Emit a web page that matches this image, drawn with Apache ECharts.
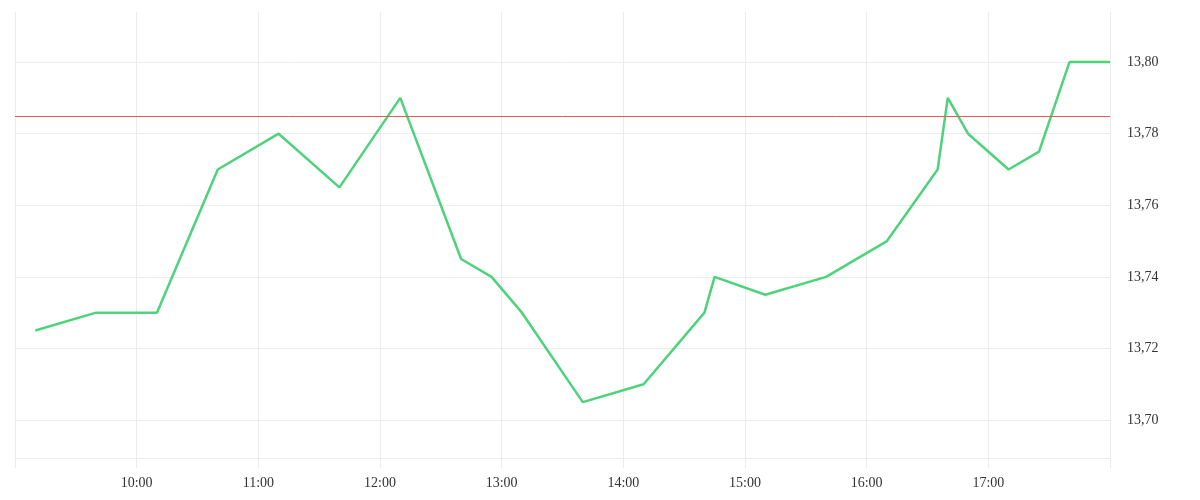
<!DOCTYPE html>
<html>
<head>
<meta charset="utf-8">
<script src="https://cdn.jsdelivr.net/npm/echarts@6/dist/echarts.min.js"></script>
<style>html,body{margin:0;padding:0;background:#fff}#c{width:1200px;height:500px}</style>
</head>
<body>
<div id="c"></div>
<script>
const times = ["09:10","09:40","10:10","10:40","11:10","11:40","12:10","12:40","12:55","13:10","13:40","14:10","14:40","14:45","15:10","15:40","16:10","16:35","16:40","16:50","17:10","17:25","17:40","18:00"];
const prices = [13.725,13.73,13.73,13.77,13.78,13.765,13.79,13.745,13.74,13.73,13.705,13.71,13.73,13.74,13.735,13.74,13.75,13.77,13.79,13.78,13.77,13.775,13.80,13.80];
const referenceLevel = 13.785;
const hourLabels = ["09:00","10:00","11:00","12:00","13:00","14:00","15:00","16:00","17:00","18:00"];

const toMin = s => { const p = s.split(":"); return (+p[0]) * 60 + (+p[1]) - 540; };
const seriesData = times.map((t, i) => [toMin(t), prices[i]]);
const gridColor = '#ececec';
const font = 'Liberation Serif';

const chart = echarts.init(document.getElementById('c'));
chart.setOption({
  animation: false,
  grid: { left: 15, right: 90, top: 12, bottom: 42, containLabel: false },
  xAxis: {
    type: 'value', min: 0, max: 540, interval: 60,
    axisLine: { show: true, lineStyle: { color: gridColor } },
    axisTick: { show: true, length: 10, lineStyle: { color: gridColor } },
    splitLine: { show: true, lineStyle: { color: gridColor } },
    axisLabel: {
      margin: 18, color: '#333', fontFamily: font, fontSize: 14,
      formatter: v => (v === 0 || v === 540) ? '' : hourLabels[Math.round(v / 60)]
    }
  },
  yAxis: {
    type: 'value', position: 'right', min: 13.6894, max: 13.814, splitNumber: 6,
    axisLine: { show: false }, axisTick: { show: false },
    splitLine: { show: true, showMaxLine: false, showMinLine: false, lineStyle: { color: gridColor } },
    axisLabel: {
      margin: 17, color: '#333', fontFamily: font, fontSize: 14,
      showMinLabel: false, showMaxLabel: false,
      formatter: v => {
        const r = Math.round(v * 100) / 100;
        if (Math.abs(r - v) > 1e-6) return '';
        return r.toFixed(2).replace('.', ',');
      }
    }
  },
  series: [{
    type: 'line', data: seriesData, symbol: 'none',
    lineStyle: { color: '#4ed27b', width: 2.5 },
    markLine: {
      silent: true, symbol: 'none', precision: 4, label: { show: false },
      lineStyle: { color: '#e05a5a', width: 1, type: 'solid' },
      data: [{ yAxis: referenceLevel }]
    }
  }]
});
</script>
</body>
</html>
